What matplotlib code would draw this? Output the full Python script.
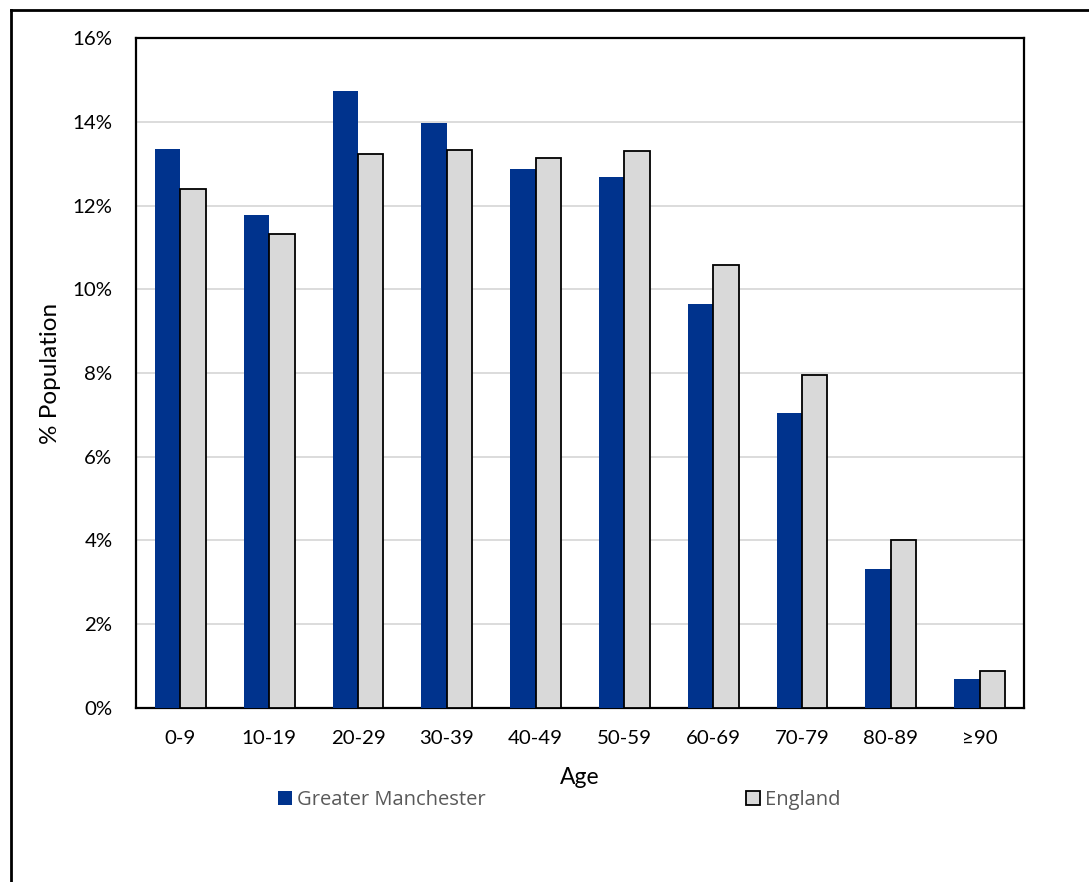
import matplotlib.pyplot as plt
import numpy as np
from matplotlib.patches import Patch
from matplotlib.lines import Line2D

plt.rcParams['font.family'] = ['Lato', 'DejaVu Sans']

ages = ['0-9', '10-19', '20-29', '30-39', '40-49', '50-59', '60-69', '70-79', '80-89', '≥90']
greater_manchester = [13.34, 11.78, 14.73, 13.96, 12.87, 12.69, 9.64, 7.04, 3.32, 0.70]
england = [12.39, 11.32, 13.24, 13.33, 13.13, 13.31, 10.58, 7.95, 4.01, 0.89]
yticks = [0, 2, 4, 6, 8, 10, 12, 14, 16]

gm_color = '#00338D'
eng_color = '#D9D9D9'

fig = plt.figure(figsize=(10.89, 8.82), dpi=100)
ax = fig.add_axes([0.1249, 0.1973, 0.8154, 0.7596])

x = np.arange(len(ages))
w = 0.286
ax.bar(x - w / 2, greater_manchester, w, color=gm_color, edgecolor='none', zorder=3)
ax.bar(x + w / 2, england, w, color=eng_color, edgecolor='black', linewidth=1.3, zorder=3)

ax.set_xlim(-0.5, len(ages) - 0.5)
ax.set_ylim(0, 16)
ax.set_yticks(yticks)
ax.set_yticklabels([f'{v}%' for v in yticks])
ax.set_xticks(x)
ax.set_xticklabels(ages)
ax.tick_params(axis='both', length=0, labelsize=14.7, colors='black')
ax.tick_params(axis='x', pad=16)
ax.tick_params(axis='y', pad=17)
ax.yaxis.grid(True, color='#D9D9D9', linewidth=1.3, zorder=0)
ax.set_axisbelow(True)
for s in ax.spines.values():
    s.set_linewidth(1.6)
    s.set_color('black')

ax.set_xlabel('Age', fontsize=16.5, labelpad=14)
ax.set_ylabel('% Population', fontsize=17.5, labelpad=8)

handles = [Patch(facecolor=gm_color, edgecolor='none', label='Greater Manchester'),
           Patch(facecolor=eng_color, edgecolor='black', linewidth=1.3, label='England')]
leg = fig.legend(handles=handles, ncol=2, loc='center', bbox_to_anchor=(0.5135, 0.0925),
                 frameon=False, prop={'family': 'Open Sans', 'size': 14.5},
                 handlelength=0.7, handleheight=0.7,
                 handletextpad=0.25, columnspacing=12.9, labelcolor='#595959')

# figure frame (left and top edges visible)
fig.add_artist(Line2D([0.0101, 0.0101], [0, 0.9887], transform=fig.transFigure, color='black', linewidth=2))
fig.add_artist(Line2D([0.0101, 1.0], [0.9887, 0.9887], transform=fig.transFigure, color='black', linewidth=2))

fig.savefig('out.png', dpi=100)
